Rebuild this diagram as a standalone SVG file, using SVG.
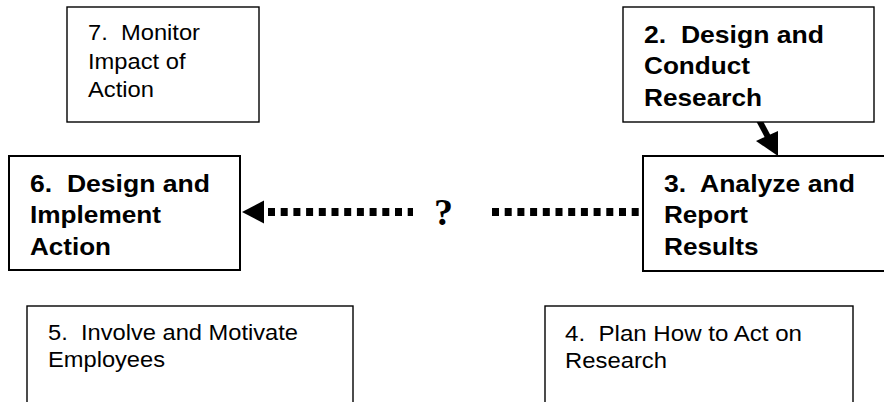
<svg xmlns="http://www.w3.org/2000/svg" width="884" height="402" viewBox="0 0 884 402">
<style>
  .box { fill: #fff; stroke: #000; stroke-width: 1.4; }
  .boxb { fill: #fff; stroke: #000; stroke-width: 2; }
  .reg { font-family: "Liberation Sans", Arial, sans-serif; font-size: 22px; fill: #000; white-space: pre; }
  .bold { font-family: "Liberation Sans", Arial, sans-serif; font-size: 24px; font-weight: bold; fill: #000; white-space: pre; }
  .q { font-family: "Liberation Serif", "Times New Roman", serif; font-size: 38px; font-weight: bold; fill: #000; }
  .dots { stroke: #000; stroke-width: 8; stroke-dasharray: 7 5.7; fill: none; }
</style>
<rect width="884" height="402" fill="#fff"/>
<g id="connectors">
  <line x1="759" y1="120" x2="768" y2="137" stroke="#000" stroke-width="6"/>
  <polygon points="756,141 778,131 778,156" fill="#000"/>
  <line class="dots" x1="268" y1="212" x2="413" y2="212"/>
  <polygon points="242,212 264,200.5 264,223.5" fill="#000"/>
  <line class="dots" x1="492" y1="212" x2="643" y2="212"/>
  <text class="q" x="434" y="225">?</text>
</g>
<g id="node7">
  <rect class="box" x="67" y="7" width="192" height="115"/>
  <text class="reg" x="88" y="40" textLength="112" lengthAdjust="spacingAndGlyphs">7.  Monitor</text>
  <text class="reg" x="88" y="69" textLength="97.5" lengthAdjust="spacingAndGlyphs">Impact of</text>
  <text class="reg" x="88" y="97" textLength="66" lengthAdjust="spacingAndGlyphs">Action</text>
</g>
<g id="node2">
  <rect class="box" x="623" y="7" width="251" height="115"/>
  <text class="bold" x="644" y="43" textLength="180" lengthAdjust="spacingAndGlyphs">2.  Design and</text>
  <text class="bold" x="644" y="74" textLength="106" lengthAdjust="spacingAndGlyphs">Conduct</text>
  <text class="bold" x="644" y="106" textLength="118" lengthAdjust="spacingAndGlyphs">Research</text>
</g>
<g id="node6">
  <rect class="boxb" x="9" y="156" width="231" height="114"/>
  <text class="bold" x="30" y="192" textLength="180" lengthAdjust="spacingAndGlyphs">6.  Design and</text>
  <text class="bold" x="30" y="223" textLength="131" lengthAdjust="spacingAndGlyphs">Implement</text>
  <text class="bold" x="30" y="255" textLength="81" lengthAdjust="spacingAndGlyphs">Action</text>
</g>
<g id="node3">
  <rect class="boxb" x="643" y="156" width="250" height="115"/>
  <text class="bold" x="664" y="192" textLength="191" lengthAdjust="spacingAndGlyphs">3.  Analyze and</text>
  <text class="bold" x="664" y="223" textLength="84" lengthAdjust="spacingAndGlyphs">Report</text>
  <text class="bold" x="664" y="255" textLength="94.5" lengthAdjust="spacingAndGlyphs">Results</text>
</g>
<g id="node5">
  <rect class="box" x="27" y="306" width="326" height="100"/>
  <text class="reg" x="48" y="340" textLength="250" lengthAdjust="spacingAndGlyphs">5.  Involve and Motivate</text>
  <text class="reg" x="48" y="367" textLength="117" lengthAdjust="spacingAndGlyphs">Employees</text>
</g>
<g id="node4">
  <rect class="box" x="545" y="306" width="308" height="100"/>
  <text class="reg" x="565" y="341" textLength="237" lengthAdjust="spacingAndGlyphs">4.  Plan How to Act on</text>
  <text class="reg" x="565" y="368" textLength="102" lengthAdjust="spacingAndGlyphs">Research</text>
</g>
</svg>
